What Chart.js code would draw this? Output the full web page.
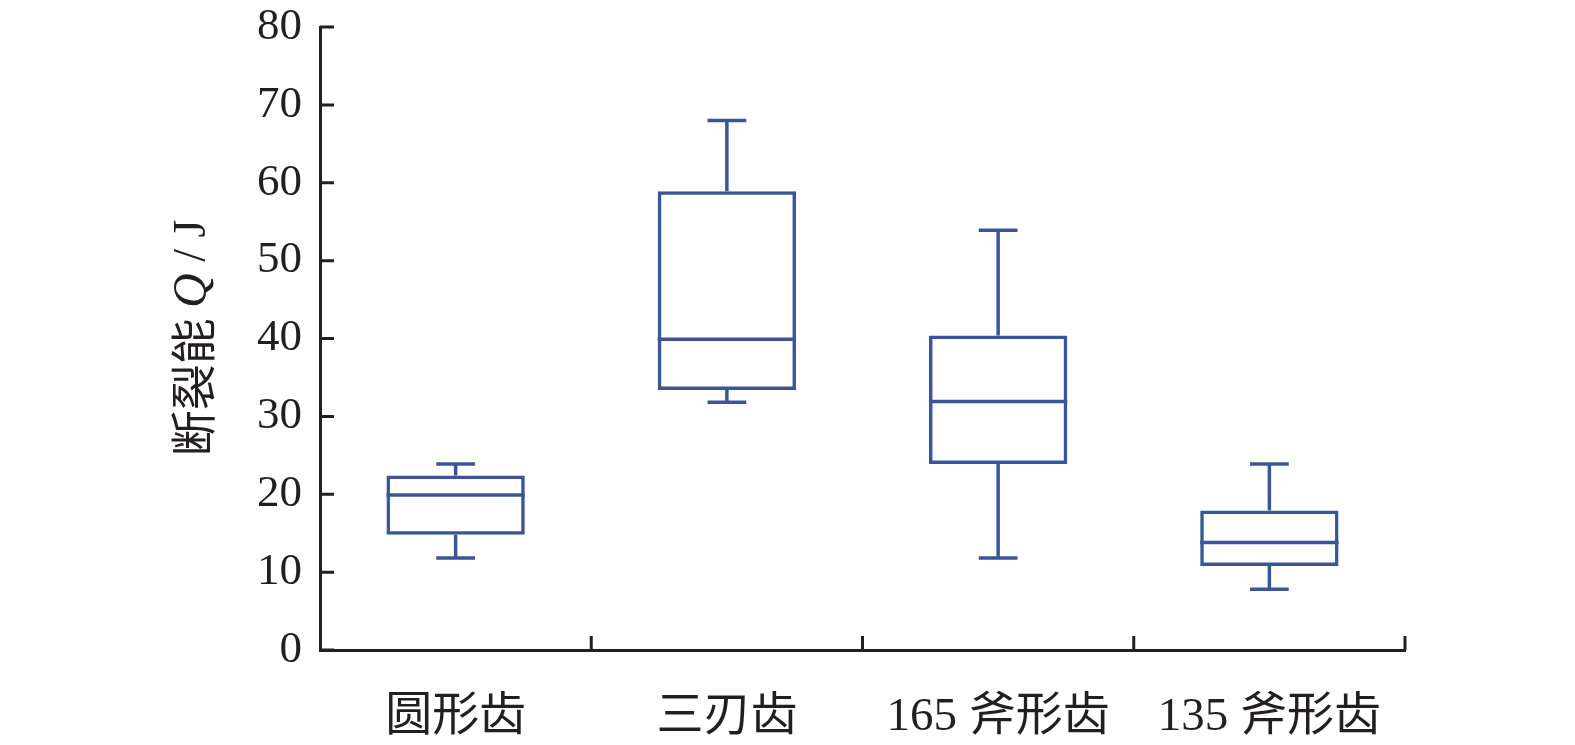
<!DOCTYPE html>
<html>
<head>
<meta charset="utf-8">
<script src="https://cdn.jsdelivr.net/npm/chart.js@4.4.1/dist/chart.umd.min.js"></script>
<style>
    html, body { margin:0; padding:0; background:#fff; }
    #wrap { width:1575px; height:745px; }
</style>
</head>
<body>
<div id="wrap"><canvas id="boxChart"></canvas></div>
<script>

// DATA

const categories = ["圆形齿", "三刃齿", "165 斧形齿", "135 斧形齿"];
const minValues    = [11.8, 31.8, 11.8, 7.8];
const q1Values     = [14.8, 33.4, 23.9, 10.8];
const medianValues = [19.9, 39.9, 31.9, 13.8];
const q3Values     = [22.4, 58.9, 40.4, 17.9];
const maxValues    = [23.9, 68.0, 53.9, 23.9];
const yTicks = [0, 10, 20, 30, 40, 50, 60, 70, 80];

const BLUE = "#3b5697";
const INK = "#231f20";

// WHISKERS, MEDIAN, INSIDE TICKS, AXIS TITLE

const boxExtras = {
    id:"boxExtras",
    afterDatasetsDraw(chart){
        let ctx = chart.ctx;
        let y = chart.scales.y;
        let x = chart.scales.x;
        let area = chart.chartArea;
        let bars = chart.getDatasetMeta(0).data;

        ctx.save();
        ctx.strokeStyle = BLUE;
        ctx.lineWidth = 3.5;
        ctx.lineCap = "butt";

        bars.forEach((bar, i) => {
            let cx = bar.x;
            let half = bar.width / 2;
            let cap = bar.width * 0.14;

            let yMin = y.getPixelForValue(minValues[i]);
            let yQ1 = y.getPixelForValue(q1Values[i]);
            let yMed = y.getPixelForValue(medianValues[i]);
            let yQ3 = y.getPixelForValue(q3Values[i]);
            let yMax = y.getPixelForValue(maxValues[i]);

            ctx.beginPath();
            // median
            ctx.moveTo(cx - half, yMed);
            ctx.lineTo(cx + half, yMed);
            // whiskers
            ctx.moveTo(cx, yQ3);
            ctx.lineTo(cx, yMax);
            ctx.moveTo(cx - cap, yMax);
            ctx.lineTo(cx + cap, yMax);
            ctx.moveTo(cx, yQ1);
            ctx.lineTo(cx, yMin);
            ctx.moveTo(cx - cap, yMin);
            ctx.lineTo(cx + cap, yMin);
            ctx.stroke();
        });

        // ticks pointing inward
        ctx.strokeStyle = INK;
        ctx.lineWidth = 3;
        ctx.beginPath();
        yTicks.forEach(v => {
            let py = y.getPixelForValue(v);
            ctx.moveTo(area.left, py);
            ctx.lineTo(area.left + 14, py);
        });
        for(let i = 1; i <= categories.length; i++){
            let px = x.getPixelForValue(i - 0.5);
            ctx.moveTo(px, area.bottom);
            ctx.lineTo(px, area.bottom - 14);
        }
        ctx.stroke();

        // y title with italic Q
        ctx.translate(193, 338);
        ctx.rotate(-Math.PI / 2);
        ctx.fillStyle = INK;
        ctx.textBaseline = "middle";

        let parts = [
            { t:"断裂能 ", f:"46px 'Noto Sans CJK SC', 'Liberation Serif'" },
            { t:"Q", f:"italic 48px 'Liberation Serif'" },
            { t:" / J", f:"46px 'Liberation Serif'" }
        ];

        let total = 0;
        parts.forEach(p => {
            ctx.font = p.f;
            p.w = ctx.measureText(p.t).width;
            total += p.w;
        });

        let cur = -total / 2;
        parts.forEach(p => {
            ctx.font = p.f;
            ctx.textAlign = "left";
            ctx.fillText(p.t, cur, 0);
            cur += p.w;
        });

        ctx.restore();
    }
};

// CHART

new Chart(document.getElementById("boxChart"),{

    type:"bar",

    data:{
        labels:categories,
        datasets:[{
            data:categories.map((c, i) => [q1Values[i], q3Values[i]]),
            backgroundColor:"rgba(255,255,255,0)",
            borderColor:BLUE,
            borderWidth:3.5,
            borderSkipped:false,
            barPercentage:0.51,
            categoryPercentage:1
        }]
    },

    options:{
        responsive:true,
        maintainAspectRatio:false,
        animation:false,
        layout:{
            padding:{ top:27, right:170, bottom:0, left:0 }
        },
        plugins:{
            legend:{ display:false },
            tooltip:{ enabled:false }
        },
        scales:{
            x:{
                grid:{ display:false, drawTicks:false },
                border:{ display:true, color:INK, width:3 },
                ticks:{
                    color:INK,
                    padding:39,
                    font:{ family:"'Liberation Serif', 'Noto Sans CJK SC'", size:47 }
                },
                afterFit(scale){
                    scale.height = 95;
                    scale.paddingLeft = 0;
                    scale.paddingRight = 0;
                }
            },
            y:{
                min:0,
                max:80,
                afterBuildTicks(scale){
                    scale.ticks = yTicks.map(v => ({ value:v }));
                },
                grid:{ display:false, drawTicks:false },
                border:{ display:true, color:INK, width:3 },
                ticks:{
                    color:INK,
                    padding:18,
                    font:{ family:"'Liberation Serif'", size:45, lineHeight:1 }
                },
                afterFit(scale){
                    scale.width = 320;
                    scale.paddingTop = 0;
                    scale.paddingBottom = 0;
                }
            }
        }
    },

    plugins:[boxExtras]
});

</script>
</body>
</html>
